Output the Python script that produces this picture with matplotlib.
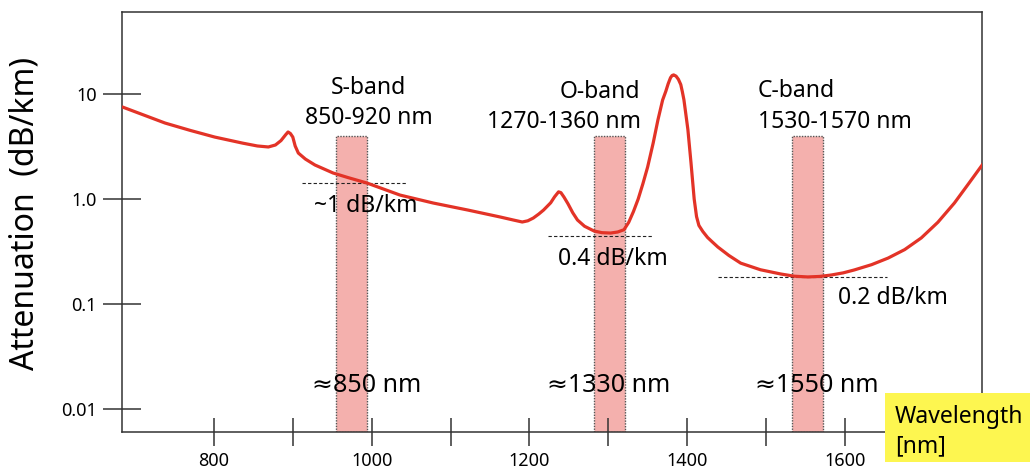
import matplotlib.pyplot as plt
from matplotlib.patches import Rectangle

plt.rcParams['font.family'] = ['Noto Sans', 'DejaVu Sans']

# attenuation curve (nm, dB/km)
wavelength = [684, 738, 770, 801, 836, 855, 869, 878, 885, 891, 894, 897,
              900, 903, 907, 916, 928, 951, 970, 994, 1036, 1078, 1122, 1163,
              1180, 1191, 1198, 1205, 1212, 1218, 1227, 1232, 1237, 1240,
              1244, 1249, 1255, 1261, 1270, 1282, 1292, 1303, 1312, 1320,
              1326, 1332, 1338, 1344, 1350, 1357, 1363, 1369, 1373, 1376,
              1379, 1381, 1383, 1386, 1389, 1392, 1394, 1396, 1398, 1401,
              1405, 1409, 1412, 1415, 1420, 1426, 1432, 1439, 1453, 1468,
              1493, 1519, 1536, 1553, 1568, 1583, 1598, 1612, 1634, 1655,
              1676, 1697, 1718, 1739, 1757, 1776]
attenuation = [7.52, 5.29, 4.5, 3.89, 3.41, 3.2, 3.13, 3.27, 3.6, 4.1, 4.35,
               4.2, 3.89, 3.2, 2.74, 2.4, 2.11, 1.77, 1.6, 1.42, 1.09, 0.916,
               0.785, 0.674, 0.63, 0.604, 0.62, 0.659, 0.72, 0.785, 0.92,
               1.05, 1.17, 1.15, 1.04, 0.9, 0.74, 0.631, 0.55, 0.496, 0.478,
               0.474, 0.485, 0.51, 0.6, 0.76, 1.0, 1.4, 2.02, 3.41, 5.65,
               8.77, 10.6, 12.5, 14.3, 15.0, 15.2, 14.8, 13.8, 12.3, 10.5,
               8.8, 6.8, 4.6, 2.2, 1.0, 0.68, 0.56, 0.49, 0.43, 0.39, 0.349,
               0.29, 0.245, 0.212, 0.193, 0.184, 0.181, 0.183, 0.189, 0.198,
               0.211, 0.237, 0.274, 0.33, 0.426, 0.60, 0.916, 1.4, 2.20]

# shaded bands as drawn
band_lo = [955, 1282, 1533]
band_hi = [994, 1321, 1572]
band_top = 4.0
band_name = ['S-band', 'O-band', 'C-band']
band_range = ['850-920 nm', '1270-1360 nm', '1530-1570 nm']
band_centre = ['≈850 nm', '≈1330 nm', '≈1550 nm']

# dashed reference levels
ref_level = [1.42, 0.445, 0.181]
ref_lo = [912, 1223, 1439]
ref_hi = [1044, 1355, 1653]
ref_text = ['~1 dB/km', '0.4 dB/km', '0.2 dB/km']

fig = plt.figure(figsize=(10.30, 4.71), dpi=100)
ax = fig.add_axes([122 / 1030, 1 - 432 / 471, 860 / 1030, 420 / 471])
ax.set_yscale('log')
ax.set_xlim(683.4, 1774)
ax.set_ylim(0.00604, 60.4)

ymin = ax.get_ylim()[0]
for lo, hi in zip(band_lo, band_hi):
    ax.bar(lo, band_top - ymin, width=hi - lo, bottom=ymin, align='edge',
           color='#f4b0ad', edgecolor='#555555', linestyle=(0, (1, 1)),
           linewidth=1.0, zorder=1)

for lev, lo, hi in zip(ref_level, ref_lo, ref_hi):
    ax.hlines(lev, lo, hi, colors='#222222', linestyles=(0, (3, 2)),
              linewidth=0.8, zorder=2)

ax.plot(wavelength, attenuation, color='#e33327', linewidth=2.3, zorder=3,
        solid_capstyle='round', solid_joinstyle='round')

fs = 16.5
# band titles
ax.text(996, 11.4, band_name[0], ha='center', va='center', fontsize=fs)
ax.text(996, 5.91, band_range[0], ha='center', va='center', fontsize=fs)
ax.text(1341, 10.45, band_name[1], ha='right', va='center', fontsize=fs)
ax.text(1341, 5.41, band_range[1], ha='right', va='center', fontsize=fs)
ax.text(1490, 10.7, band_name[2], ha='left', va='center', fontsize=fs)
ax.text(1490, 5.41, band_range[2], ha='left', va='center', fontsize=fs)

# reference level labels
ax.text(993, 0.857, ref_text[0], ha='center', va='center', fontsize=fs)
ax.text(1236, 0.268, ref_text[1], ha='left', va='center', fontsize=fs)
ax.text(1592, 0.114, ref_text[2], ha='left', va='center', fontsize=fs)

# centre wavelengths
for xc, t in zip([993, 1301, 1565], band_centre):
    ax.text(xc, 0.0169, t, ha='center', va='center', fontsize=18)

ax.set_yticks([0.01, 0.1, 1, 10])
ax.set_yticklabels(['0.01', '0.1', '1.0', '10'])
ax.minorticks_off()
ax.set_xticks([800, 1000, 1200, 1400, 1600])
ax.set_xticks([900, 1100, 1300, 1500, 1700], minor=True)
ax.tick_params(axis='y', which='both', direction='inout', length=28,
               width=1.1, color='#333333', labelsize=13, pad=4)
ax.tick_params(axis='x', which='both', direction='inout', length=19.5,
               width=1.1, color='#333333', labelsize=13, pad=5)
for s in ax.spines.values():
    s.set_color('#333333')
    s.set_linewidth(1.1)

fig.text(25 / 1030, 1 - 213 / 471, 'Attenuation  (dB/km)', rotation=90,
         ha='center', va='center', fontsize=23)

# yellow axis label box
fig.patches.append(Rectangle((885 / 1030, 1 - 462 / 471), 145 / 1030, 69 / 471,
                             transform=fig.transFigure, facecolor='#fdf650',
                             edgecolor='none', zorder=5))
fig.text(895 / 1030, 1 - 432 / 471, 'Wavelength\n[nm]', ha='left', va='center',
         fontsize=16.5, linespacing=1.3, zorder=6)

fig.savefig('out.png', dpi=100)
